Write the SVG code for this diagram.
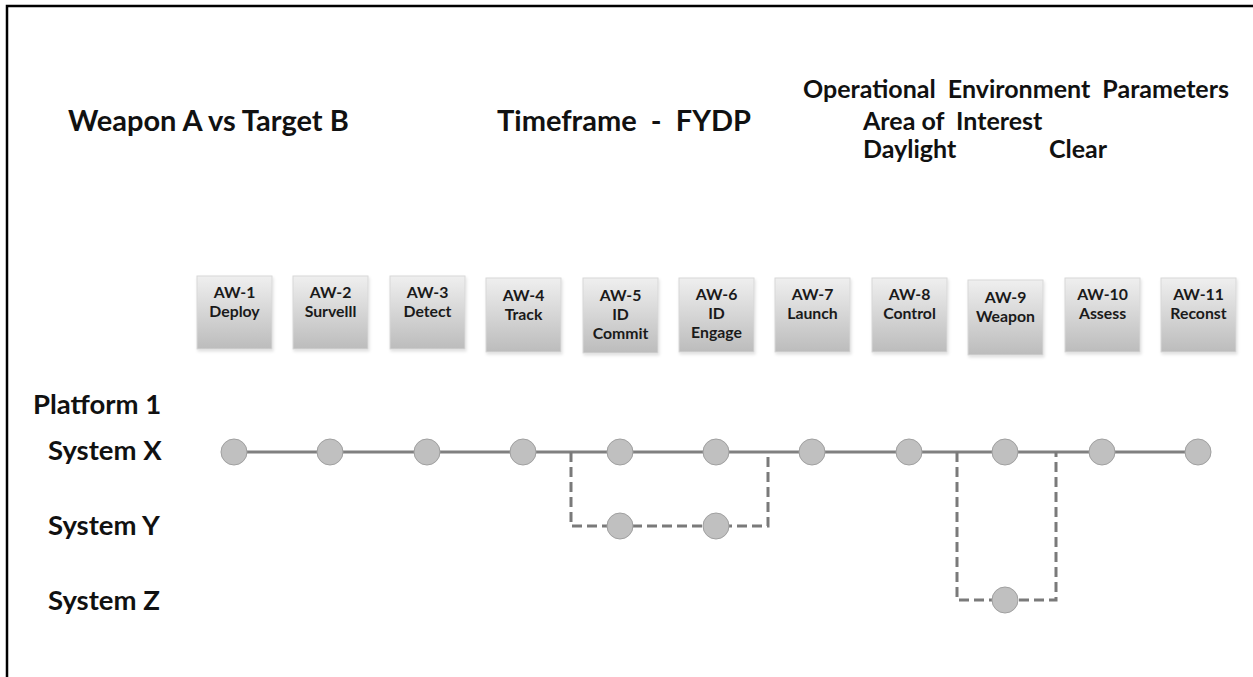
<svg xmlns="http://www.w3.org/2000/svg" width="1253" height="677" viewBox="0 0 1253 677">
<style>
  text { font-family: Lato, "Liberation Sans", sans-serif; font-weight: bold; fill: #111; white-space: pre; }
  .big { font-size: 29px; }
  .hdr { font-size: 25px; }
  .lbl { font-size: 27.5px; }
  .box { fill: url(#boxg); stroke: #d8d8d8; stroke-width: 1; filter: url(#sh); }
  .bt { font-size: 15.8px; text-anchor: middle; fill: #1a1a1a; }
  .dot { fill: #c0c0c0; stroke: #a0a0a0; stroke-width: 1; }
  .solid { stroke: #808080; stroke-width: 3; fill: none; }
  .dash { stroke: #7a7a7a; stroke-width: 3; fill: none; stroke-dasharray: 10 5; }
</style>
<defs>
  <linearGradient id="boxg" x1="0" y1="0" x2="0" y2="1">
    <stop offset="0" stop-color="#efefef"/>
    <stop offset="1" stop-color="#bcbcbc"/>
  </linearGradient>
  <filter id="sh" x="-10%" y="-10%" width="130%" height="130%">
    <feDropShadow dx="1" dy="2" stdDeviation="1.5" flood-color="#000" flood-opacity="0.12"/>
  </filter>
</defs>
<rect width="1253" height="677" fill="#fff"/>
<path d="M7,677 V6 H1253" fill="none" stroke="#000" stroke-width="2.5"/>

<g id="headers">
  <text class="big" x="68" y="131">Weapon A vs Target B</text>
  <text class="big" x="497" y="131">Timeframe  -  FYDP</text>
  <text class="hdr" x="803" y="98">Operational  Environment  Parameters</text>
  <text class="hdr" x="863" y="130">Area of  Interest</text>
  <text class="hdr" x="863" y="158">Daylight</text>
  <text class="hdr" x="1049" y="158">Clear</text>
</g>

<g id="row-labels">
  <text class="lbl" x="33" y="414">Platform 1</text>
  <text class="lbl" x="48" y="460">System X</text>
  <text class="lbl" x="48" y="535">System Y</text>
  <text class="lbl" x="48" y="610">System Z</text>
</g>

<g id="aw1"><rect class="box" x="197" y="276" width="75" height="73"/><text class="bt" x="234.5" y="298">AW-1</text><text class="bt" x="234.5" y="317">Deploy</text></g>
<g id="aw2"><rect class="box" x="293" y="276" width="75" height="73"/><text class="bt" x="330.5" y="298">AW-2</text><text class="bt" x="330.5" y="317">Survelll</text></g>
<g id="aw3"><rect class="box" x="390" y="276" width="75" height="73"/><text class="bt" x="427.5" y="298">AW-3</text><text class="bt" x="427.5" y="317">Detect</text></g>
<g id="aw4"><rect class="box" x="486" y="278" width="75" height="74"/><text class="bt" x="523.5" y="301">AW-4</text><text class="bt" x="523.5" y="320">Track</text></g>
<g id="aw5"><rect class="box" x="583" y="278" width="75" height="75"/><text class="bt" x="620.5" y="301">AW-5</text><text class="bt" x="620.5" y="320">ID</text><text class="bt" x="620.5" y="339">Commit</text></g>
<g id="aw6"><rect class="box" x="679" y="278" width="75" height="74"/><text class="bt" x="716.5" y="300">AW-6</text><text class="bt" x="716.5" y="319">ID</text><text class="bt" x="716.5" y="338">Engage</text></g>
<g id="aw7"><rect class="box" x="775" y="278" width="75" height="74"/><text class="bt" x="812.5" y="300">AW-7</text><text class="bt" x="812.5" y="319">Launch</text></g>
<g id="aw8"><rect class="box" x="872" y="278" width="75" height="74"/><text class="bt" x="909.5" y="300">AW-8</text><text class="bt" x="909.5" y="319">Control</text></g>
<g id="aw9"><rect class="box" x="968" y="280" width="75" height="75"/><text class="bt" x="1005.5" y="303">AW-9</text><text class="bt" x="1005.5" y="322">Weapon</text></g>
<g id="aw10"><rect class="box" x="1065" y="278" width="75" height="74"/><text class="bt" x="1102.5" y="300">AW-10</text><text class="bt" x="1102.5" y="319">Assess</text></g>
<g id="aw11"><rect class="box" x="1161" y="278" width="75" height="74"/><text class="bt" x="1198.5" y="300">AW-11</text><text class="bt" x="1198.5" y="319">Reconst</text></g>

<g id="connectors">
  <line class="solid" x1="234" y1="452" x2="1198" y2="452"/>
  <polyline class="dash" points="571,452 571,526 768,526 768,452"/>
  <polyline class="dash" points="957,452 957,600 1056,600 1056,452"/>
</g>

<g id="systemx-points">
  <circle class="dot" cx="234" cy="452" r="13"/>
  <circle class="dot" cx="330" cy="452" r="13"/>
  <circle class="dot" cx="427" cy="452" r="13"/>
  <circle class="dot" cx="523" cy="452" r="13"/>
  <circle class="dot" cx="620" cy="452" r="13"/>
  <circle class="dot" cx="716" cy="452" r="13"/>
  <circle class="dot" cx="812" cy="452" r="13"/>
  <circle class="dot" cx="909" cy="452" r="13"/>
  <circle class="dot" cx="1005" cy="452" r="13"/>
  <circle class="dot" cx="1102" cy="452" r="13"/>
  <circle class="dot" cx="1198" cy="452" r="13"/>
</g>
<g id="systemy-points">
  <circle class="dot" cx="620" cy="526" r="13"/>
  <circle class="dot" cx="716" cy="526" r="13"/>
</g>
<g id="systemz-points">
  <circle class="dot" cx="1005" cy="600" r="13"/>
</g>
</svg>
